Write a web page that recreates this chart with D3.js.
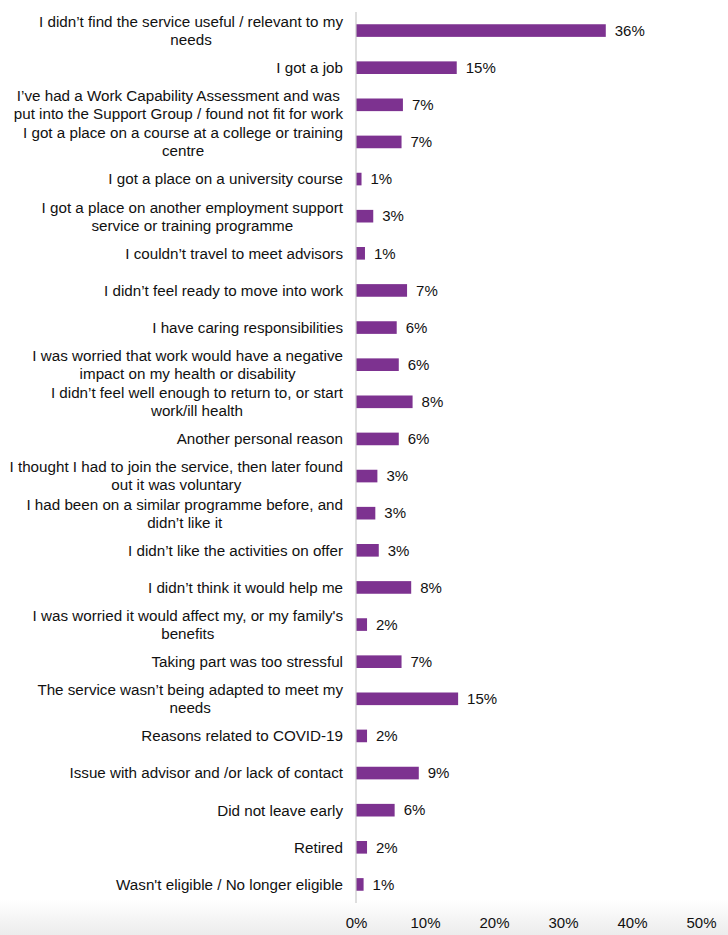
<!DOCTYPE html>
<html>
<head>
<meta charset="utf-8">
<script src="https://cdn.jsdelivr.net/npm/d3@7"></script>
<style>
  html, body { margin: 0; padding: 0; background: #fff; }
  svg { display: block; }
  text { font-family: "Liberation Sans", Arial, sans-serif; fill: #111; }
</style>
</head>
<body>
<div id="chart"></div>
<script>
const categories = [
  "I didn\u2019t find the service useful / relevant to my\nneeds",
  "I got a job",
  "I\u2019ve had a Work Capability Assessment and was\nput into the Support Group / found not fit for work",
  "I got a place on a course at a college or training\ncentre",
  "I got a place on a university course",
  "I got a place on another employment support\nservice or training programme",
  "I couldn\u2019t travel to meet advisors",
  "I didn\u2019t feel ready to move into work",
  "I have caring responsibilities",
  "I was worried that work would have a negative\nimpact on my health or disability",
  "I didn\u2019t feel well enough to return to, or start\nwork/ill health",
  "Another personal reason",
  "I thought I had to join the service, then later found\nout it was voluntary",
  "I had been on a similar programme before, and\ndidn\u2019t like it",
  "I didn\u2019t like the activities on offer",
  "I didn\u2019t think it would help me",
  "I was worried it would affect my, or my family's\nbenefits",
  "Taking part was too stressful",
  "The service wasn\u2019t being adapted to meet my\nneeds",
  "Reasons related to COVID-19",
  "Issue with advisor and /or lack of contact",
  "Did not leave early",
  "Retired",
  "Wasn't eligible / No longer eligible"
];
const values = [36.2, 14.6, 6.8, 6.6, 0.8, 2.5, 1.3, 7.4, 5.9, 6.2, 8.2, 6.2, 3.1, 2.8, 3.3, 8.0, 1.6, 6.6, 14.8, 1.6, 9.1, 5.6, 1.6, 1.1];
const valueLabels = ["36%","15%","7%","7%","1%","3%","1%","7%","6%","6%","8%","6%","3%","3%","3%","8%","2%","7%","15%","2%","9%","6%","2%","1%"];
const tickValues = [0, 10, 20, 30, 40, 50];
const tickLabels = ["0%","10%","20%","30%","40%","50%"];

const W = 728, H = 935;
const margin = { top: 12, right: 27, bottom: 32, left: 356 };

const svg = d3.select("#chart").append("svg").attr("width", W).attr("height", H);

const defs = svg.append("defs");
const grad = defs.append("linearGradient").attr("id","bg").attr("x1",0).attr("y1",0).attr("x2",0).attr("y2",1);
grad.append("stop").attr("offset","0").attr("stop-color","#ffffff");
grad.append("stop").attr("offset","1").attr("stop-color","#ececec");
svg.append("rect").attr("x",0).attr("y",0).attr("width",W).attr("height",H).attr("fill","#fff");
svg.append("rect").attr("x",0).attr("y",900).attr("width",W).attr("height",35).attr("fill","url(#bg)");

const x = d3.scaleLinear().domain([0, 50]).range([margin.left, W - margin.right]);
const y = d3.scaleBand().domain(d3.range(categories.length)).range([margin.top, H - margin.bottom]).paddingInner(0.66).paddingOuter(0.33);

// bars
svg.append("g").selectAll("rect").data(values).join("rect")
  .attr("x", x(0))
  .attr("y", (d, i) => y(i))
  .attr("width", d => x(d) - x(0))
  .attr("height", y.bandwidth())
  .attr("fill", "#7d3290");

// axis line (category axis)
svg.append("line")
  .attr("x1", x(0)).attr("x2", x(0))
  .attr("y1", margin.top).attr("y2", H - margin.bottom)
  .attr("stroke", "#c8c8c8").attr("stroke-width", 1.2);

// value labels
svg.append("g").selectAll("text").data(values).join("text")
  .attr("x", d => x(d) + 9)
  .attr("y", (d, i) => y(i) + y.bandwidth() / 2)
  .attr("dy", "0.35em")
  .attr("font-size", 15)
  .text((d, i) => valueLabels[i]);

// category labels (centered multi-line, right aligned block)
const labelRight = 343;
const lineH = 18;
const lg = svg.append("g");
categories.forEach((c, i) => {
  const lines = c.split("\n");
  const cy = y(i) + y.bandwidth() / 2;
  const t = lg.append("text").attr("font-size", 15.2);
  lines.forEach((ln, k) => {
    t.append("tspan").text(ln)
      .attr("y", cy + (k - (lines.length - 1) / 2) * lineH)
      .attr("dy", "0.35em");
  });
  const spans = t.selectAll("tspan").nodes();
  const widths = spans.map(s => s.getComputedTextLength());
  const maxW = d3.max(widths);
  const center = labelRight - maxW / 2;
  spans.forEach(s => d3.select(s).attr("x", center).attr("text-anchor", "middle"));
});

// x axis
const xAxis = d3.axisBottom(x).tickValues(tickValues).tickFormat((d, i) => tickLabels[i]).tickSize(0).tickPadding(0);
const ax = svg.append("g").attr("transform", `translate(0, ${H - 12})`).call(xAxis);
ax.select(".domain").remove();
ax.selectAll("text").attr("font-size", 15).attr("dy", "0.35em").style("font-family", '"Liberation Sans", Arial, sans-serif').attr("fill", "#111");
</script>
</body>
</html>
